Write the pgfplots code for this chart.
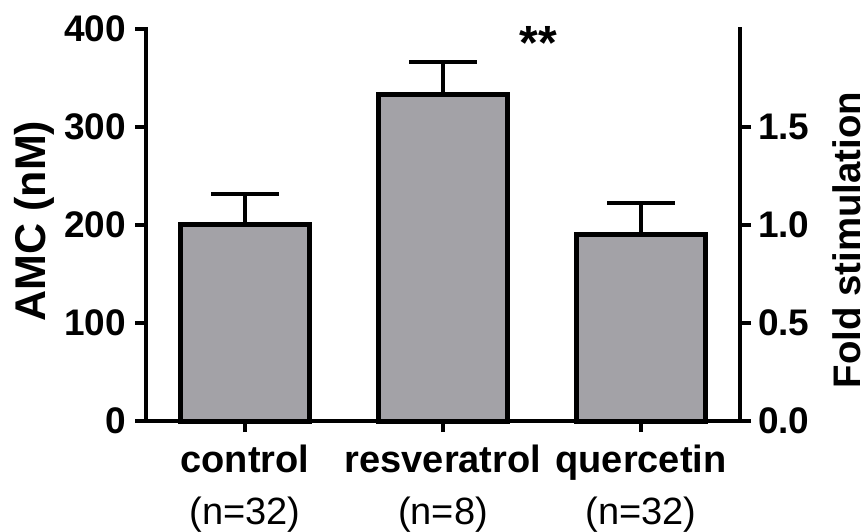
\documentclass[border=0pt]{standalone}
\usepackage{fontspec}
\setmainfont{Liberation Sans}
\usepackage{pgfplots}
\pgfplotsset{compat=1.18}
\definecolor{barfill}{RGB}{163,162,167}

\begin{document}
\begin{tikzpicture}
\path[use as bounding box] (-73pt,-55pt) rectangle (360pt,210.5pt);
% left axis: AMC concentration with bars
\begin{axis}[
  scale only axis, width=297pt, height=196pt,
  xmin=-0.5, xmax=2.5, ymin=0, ymax=400,
  axis x line*=bottom, axis y line*=left,
  axis line style={-, line width=2pt, line cap=rect},
  tick style={line width=2pt, black},
  tick align=outside,
  major tick length=5.5pt,
  xtick={0,1,2},
  xticklabels={{\textbf{control}\\[5pt]\mdseries (n=32)},
               {\textbf{resveratrol}\\[5pt]\mdseries (n=8)},
               {\textbf{quercetin}\\[5pt]\mdseries (n=32)}},
  xticklabel style={align=center, anchor=north, yshift=-3pt,
    font=\fontsize{19}{21}\selectfont},
  ytick={0,100,200,300,400},
  /pgf/number format/assume math mode=true,
  yticklabel style={font=\bfseries\fontsize{18.5}{20}\selectfont, xshift=-1pt},
  ylabel={AMC (nM)},
  ylabel style={at={([xshift=-56pt,yshift=2pt]axis description cs:0,0.5)},
    anchor=center, font=\bfseries\fontsize{21.5}{24}\selectfont},
  clip=false,
]
\addplot[ybar, bar width=0.65, fill=barfill, draw=black, line width=2.5pt,
  error bars/.cd, y dir=plus, y explicit,
  error bar style={line width=1.6pt, black},
  error mark options={rotate=90, line width=2pt, mark size=17pt, black}]
  coordinates {(0,201) +- (0,31) (1,333) +- (0,33) (2,190) +- (0,32)};
\node[font=\bfseries\fontsize{24}{24}\selectfont] at (axis cs:1.48,386) {**};
\end{axis}
% right axis: fold stimulation
\begin{axis}[
  scale only axis, width=297pt, height=196pt,
  xmin=-0.5, xmax=2.5, ymin=0, ymax=2,
  axis x line=none, axis y line*=right,
  axis line style={-, line width=2pt, line cap=rect},
  tick style={line width=2pt, black},
  tick align=outside,
  major tick length=5.5pt,
  ytick={0,0.5,1,1.5},
  yticklabels={0.0,0.5,1.0,1.5},
  yticklabel style={font=\bfseries\fontsize{18.5}{20}\selectfont},
  ylabel={Fold stimulation},
  ylabel style={at={([xshift=53.5pt,yshift=-7.5pt]axis description cs:1,0.5)},
    anchor=center, font=\bfseries\fontsize{19.2}{22}\selectfont},
]
\addplot[draw=none] coordinates {(0,0)};
\end{axis}
\end{tikzpicture}
\end{document}
